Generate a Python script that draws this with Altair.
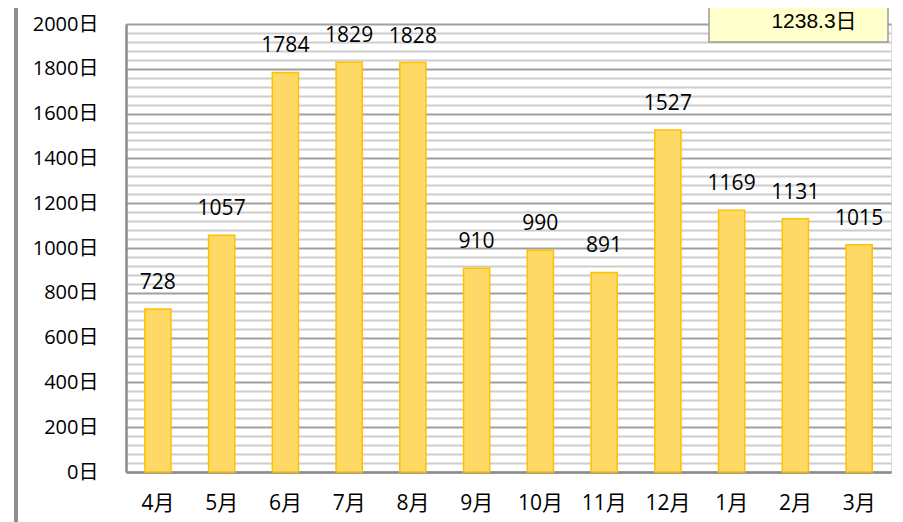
import altair as alt
import pandas as pd

months = ["4月", "5月", "6月", "7月", "8月", "9月", "10月", "11月", "12月", "1月", "2月", "3月"]
values = [728, 1057, 1784, 1829, 1828, 910, 990, 891, 1527, 1169, 1131, 1015]
avg_label = "1238.3日"

df = pd.DataFrame({"month": months, "value": values})

W, H = 765, 448
TOP = 16
FONT = "Open Sans, Noto Sans CJK JP"

x = alt.X("month:N", sort=months, title=None,
          scale=alt.Scale(paddingInner=0.59, paddingOuter=0.295),
          axis=alt.Axis(labelAngle=0, labelFontSize=21, labelFont=FONT, labelColor="#000",
                        labelPadding=20, ticks=False, domainColor="#8c8c8c", domainWidth=2.5,
                        grid=False, labelOverlap=False))
y = alt.Y("value:Q", title=None,
          scale=alt.Scale(domain=[0, 2000], nice=False),
          axis=alt.Axis(values=list(range(0, 2001, 40)), tickCount=60, ticks=False, labelOverlap=False,
                        labelExpr="datum.value % 200 === 0 ? datum.value + '日' : ''",
                        labelFontSize=20, labelFont=FONT, labelColor="#000", labelPadding=28,
                        domainColor="#8c8c8c", domainWidth=2.5,
                        grid=True,
                        gridColor={"condition": {"test": "datum.value % 200 === 0", "value": "#a0a0a0"}, "value": "#cdcdcd"},
                        gridWidth=1.8))

bars = alt.Chart(df).mark_bar(color="#FFD966", stroke="#FFC000", strokeWidth=1.5).encode(x=x, y=y)
labels = alt.Chart(df).mark_text(fontSize=21, font=FONT, color="#000", dy=-26).encode(
    x=alt.X("month:N", sort=months), y="value:Q", text="value:Q")

left_line = alt.Chart(df).mark_rule(color="#8c8c8c", strokeWidth=2.5).encode(
    x=alt.value(-110), y=alt.value(-TOP), y2=alt.value(H + 60))

box_df = pd.DataFrame({"t": [avg_label]})
box = alt.Chart(box_df).mark_rect(fill="#FFFFCC", stroke="#9a9a9a", strokeWidth=1.5).encode(
    x=alt.value(583), x2=alt.value(762), y=alt.value(-TOP - 10), y2=alt.value(18))
box_text = alt.Chart(box_df).mark_text(fontSize=21, font="Liberation Sans, Noto Sans CJK JP", color="#000", align="center").encode(
    x=alt.value(688), y=alt.value(-2), text="t:N")

chart = alt.layer(left_line, bars, labels, box, box_text).properties(
    width=W, height=H,
    autosize=alt.AutoSizeParams(type="none"),
    padding={"left": 118, "top": TOP, "right": 4, "bottom": 50},
).configure_view(stroke=None).configure(background="white")

chart.save("out.html", embed_options={"renderer": "svg", "actions": False})
